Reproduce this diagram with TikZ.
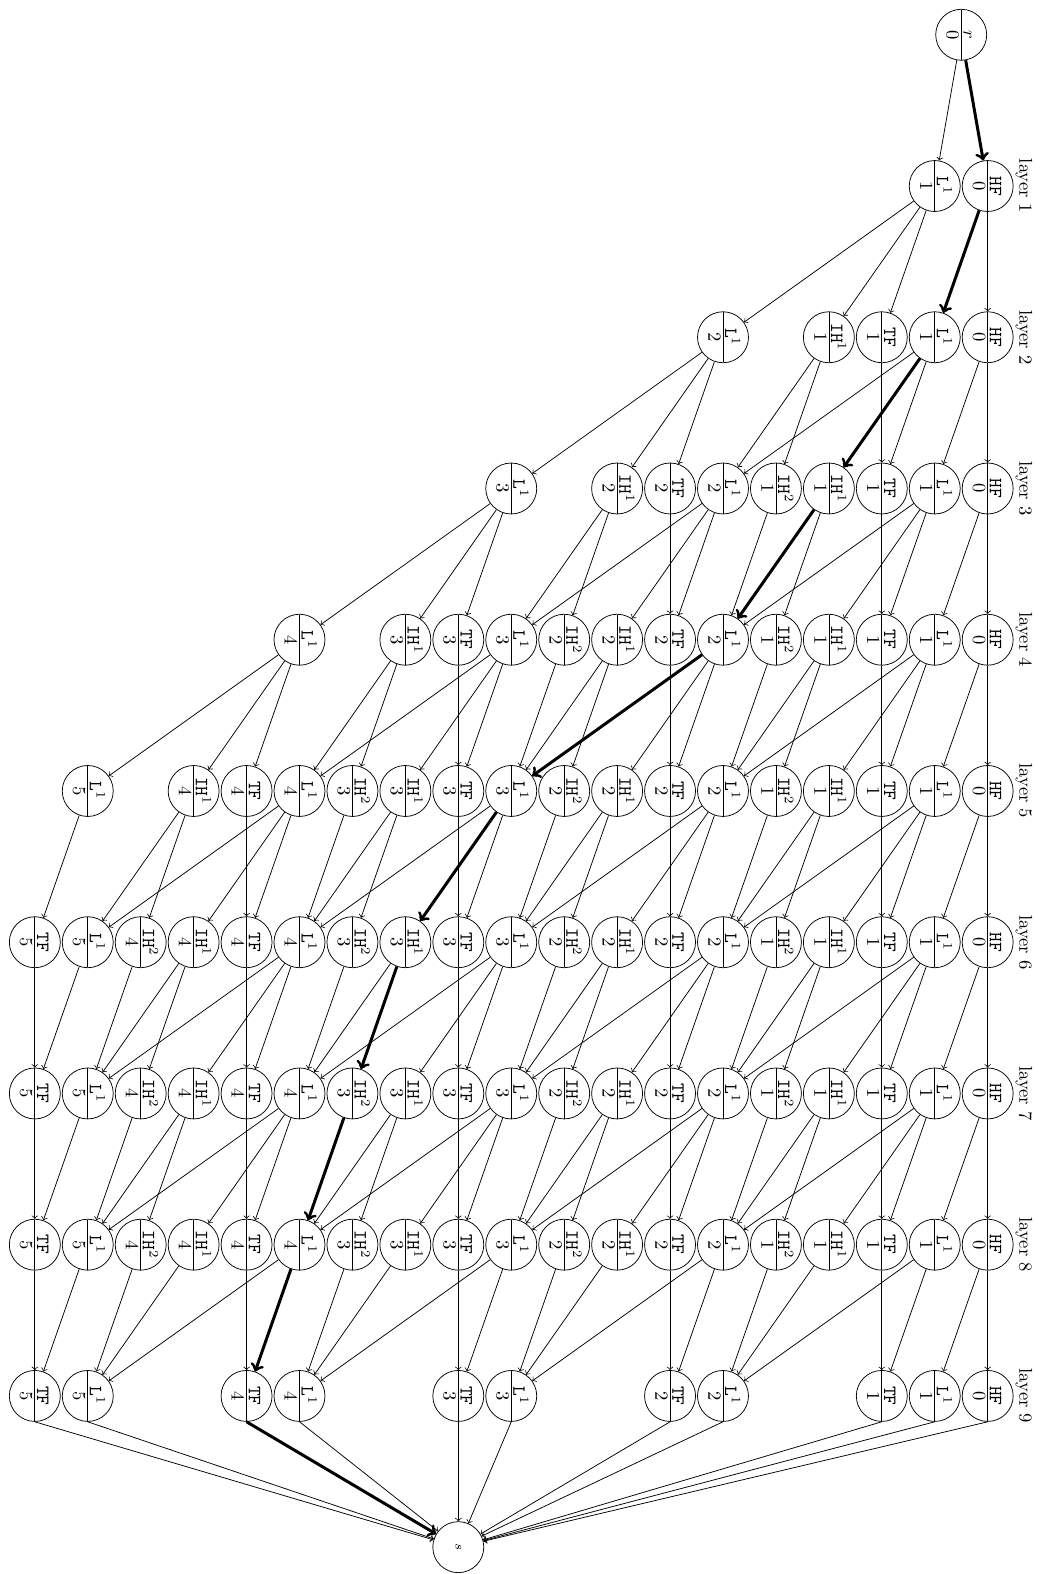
\documentclass[tikz,border=0pt]{standalone}
\usepackage{amsmath, amssymb}
\usepackage{tikz}
\usetikzlibrary{shapes, arrows, positioning}

\begin{document}
\begin{tikzpicture}[
    x=-1cm, y=-2.857cm,
    state/.style={circle split, draw, rotate=-90, minimum size=27.4pt, inner sep=1pt},
    edge/.style={->},
    best/.style={->, ultra thick}
  ]
  \useasboundingbox (-18.658cm,0.657cm) rectangle (1.064cm,-29.077cm);

  % start and end
  \node[state] (r) at (0.5,0) {$r$ \nodepart{lower} 0};
  \node[circle, draw, rotate=-90, minimum size=27.4pt] (s) at (10,10) {\scriptsize $s$};

  % layers
  \foreach \l in {1,...,9} {
    \node[rotate=-90] (lab-\l) at (-0.686,\l) {layer \l};
    \node[state] (HF-\l) at (0,\l) {\texttt{HF} \nodepart{lower} 0};
  }
  \foreach \k in {1,...,5} {
    \pgfmathtruncatemacro\first{\k+1}
    \foreach \l in {\k,...,9}
      \node[state] (L\k-\l) at ({4*\k-3},\l) {$\mathtt{L}^1$ \nodepart{lower} \k};
    \foreach \l in {\first,...,9}
      \node[state] (TF\k-\l) at ({4*\k-2},\l) {\texttt{TF} \nodepart{lower} \k};
  }
  \foreach \k in {1,...,4} {
    \pgfmathtruncatemacro\first{\k+1}
    \pgfmathtruncatemacro\second{\k+2}
    \foreach \l in {\first,...,8}
      \node[state] (IHa\k-\l) at ({4*\k-1},\l) {$\mathtt{IH}^1$ \nodepart{lower} \k};
    \foreach \l in {\second,...,8}
      \node[state] (IHb\k-\l) at ({4*\k},\l) {$\mathtt{IH}^2$ \nodepart{lower} \k};
  }

  % edges
  \draw[edge] (r) -- (L1-1);
  \foreach \l in {1,...,8} {
    \pgfmathtruncatemacro\nxt{\l+1}
    \draw[edge] (HF-\l) -- (HF-\nxt);
    \draw[edge] (HF-\l) -- (L1-\nxt);
  }
  \foreach \k in {1,...,5} {
    \pgfmathtruncatemacro\first{\k+1}
    \foreach \l in {\k,...,8} {
      \pgfmathtruncatemacro\nxt{\l+1}
      \draw[edge] (L\k-\l) -- (TF\k-\nxt);
    }
    \foreach \l in {\first,...,8} {
      \pgfmathtruncatemacro\nxt{\l+1}
      \draw[edge] (TF\k-\l) -- (TF\k-\nxt);
    }
  }
  \foreach \k in {1,...,4} {
    \pgfmathtruncatemacro\up{\k+1}
    \pgfmathtruncatemacro\first{\k+1}
    \pgfmathtruncatemacro\second{\k+2}
    \foreach \l in {\k,...,8} {
      \pgfmathtruncatemacro\nxt{\l+1}
      \draw[edge] (L\k-\l) -- (L\up-\nxt);
    }
    \foreach \l in {\k,...,7} {
      \pgfmathtruncatemacro\nxt{\l+1}
      \draw[edge] (L\k-\l) -- (IHa\k-\nxt);
    }
    \foreach \l in {\first,...,8} {
      \pgfmathtruncatemacro\nxt{\l+1}
      \draw[edge] (IHa\k-\l) -- (L\up-\nxt);
    }
    \foreach \l in {\first,...,7} {
      \pgfmathtruncatemacro\nxt{\l+1}
      \draw[edge] (IHa\k-\l) -- (IHb\k-\nxt);
    }
    \foreach \l in {\second,...,8} {
      \pgfmathtruncatemacro\nxt{\l+1}
      \draw[edge] (IHb\k-\l) -- (L\up-\nxt);
    }
  }
  \draw[edge] (HF-9.east) -- (s);
  \foreach \k in {1,...,5} {
    \draw[edge] (L\k-9.east) -- (s);
    \draw[edge] (TF\k-9.east) -- (s);
  }

  % best path
  \foreach \a/\b in {r/HF-1, HF-1/L1-2, L1-2/IHa1-3, IHa1-3/L2-4, L2-4/L3-5,
                     L3-5/IHa3-6, IHa3-6/IHb3-7, IHb3-7/L4-8, L4-8/TF4-9, TF4-9.east/s}
    \draw[best] (\a) -- (\b);
\end{tikzpicture}
\end{document}
